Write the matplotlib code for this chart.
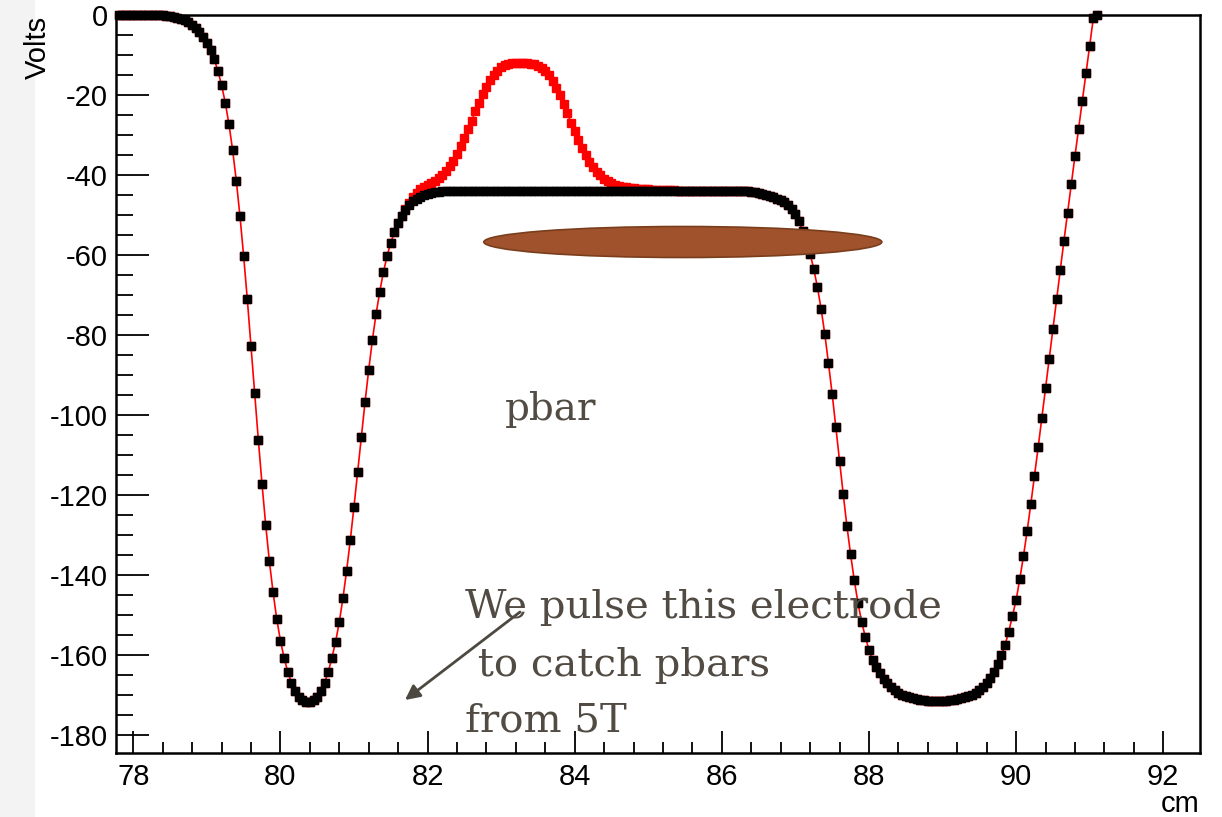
import numpy as np
import matplotlib

matplotlib.use("Agg")
import matplotlib.pyplot as plt  # noqa: E402
from matplotlib.patches import Ellipse, Rectangle  # noqa: E402
from matplotlib.ticker import FixedLocator  # noqa: E402

W_PX, H_PX = 1222, 817

# sampling grid of the simulated potential (cm)
X_START = 77.80
X_STEP = 0.05

# potential on axis, black series (Volts), one value per grid step from 77.80 cm
volts_black = [
    0.0, 0.0, 0.0, 0.0, 0.0, 0.0, 0.0, 0.0, 0.0,
    -0.02, -0.04, -0.07, -0.12, -0.2, -0.3, -0.45, -0.65, -0.9, -1.3,
    -1.8, -2.4, -3.2, -4.2, -5.4, -6.9, -8.75, -11.1, -13.9, -17.5,
    -21.9, -27.25, -33.75, -41.4, -50.25, -60.25, -71.1, -82.75, -94.6, -106.25,
    -117.3, -127.5, -136.6, -144.3, -151.0, -156.4, -160.7, -164.25, -166.9, -169.0,
    -170.4, -171.25, -171.7, -171.7, -171.25, -170.4, -169.0, -166.9, -164.25, -160.7,
    -156.7, -151.8, -145.75, -138.9, -131.25, -122.9, -114.2, -105.4, -96.8, -88.75,
    -81.25, -74.75, -69.2, -64.25, -60.25, -56.9, -54.3, -52.1, -50.3, -48.8,
    -47.6, -46.6, -45.9, -45.4, -45.0, -44.7, -44.5, -44.35, -44.2, -44.1,
    -44.0, -43.95,
    -43.9, -43.9, -43.9, -43.9, -43.9, -43.9, -43.9, -43.9, -43.9, -43.9,
    -43.9, -43.9, -43.9, -43.9, -43.9, -43.9, -43.9, -43.9, -43.9, -43.9,
    -43.9, -43.9, -43.9, -43.9, -43.9, -43.9, -43.9, -43.9, -43.9, -43.9,
    -43.9, -43.9, -43.9, -43.9, -43.9, -43.9, -43.9, -43.9, -43.9, -43.9,
    -43.9, -43.9, -43.9, -43.9, -43.9, -43.9, -43.9, -43.9, -43.9, -43.9,
    -43.9, -43.9, -43.9, -43.9, -43.9, -43.9, -43.9, -43.9, -43.9, -43.9,
    -43.9, -43.9, -43.9, -43.9, -43.9, -43.9, -43.9, -43.9, -43.9, -43.9,
    -43.9, -43.9, -43.9, -43.9, -43.9, -43.9, -43.9, -43.9, -43.9,
    -44.0, -44.1, -44.2, -44.3, -44.5, -44.7, -45.0, -45.3, -45.5, -45.9,
    -46.3, -46.8, -47.4, -48.4, -49.8, -51.6, -54.0, -56.7, -59.7, -63.5,
    -68.1, -73.5, -79.8, -87.1, -94.75, -103.1, -111.5, -119.75, -127.7, -134.8,
    -141.25, -146.9, -151.7, -155.4, -158.75, -161.25, -163.0, -164.5, -165.9, -167.0,
    -168.0, -168.8, -169.4, -169.9, -170.3, -170.6, -170.85, -171.05, -171.2, -171.3,
    -171.4, -171.45, -171.5, -171.5, -171.45, -171.4, -171.3, -171.2, -171.05, -170.85,
    -170.6, -170.3, -169.9, -169.4, -168.7, -167.9, -166.9, -165.7, -164.2, -162.3,
    -160.0, -157.5, -154.2, -150.25, -146.3, -141.05, -135.3, -129.05, -122.3, -115.3,
    -108.1, -100.7, -93.25, -85.9, -78.4, -71.0, -63.75, -56.5, -49.4, -42.3,
    -35.3, -28.4, -21.5, -14.4, -7.7, -0.8, 0.0,
]

# red series: differs from the black one only where the electrode is pulsed
RED_START = 81.70
volts_red_bump = [
    -48.5, -47.0, -45.6, -44.5, -43.6, -42.9, -42.4, -41.9, -41.4, -40.8,
    -40.0, -39.0, -37.8, -36.4, -34.7, -32.8, -30.8, -28.6, -26.4, -24.1,
    -21.9, -19.8, -17.9, -16.2, -14.9, -13.9, -13.1, -12.6, -12.3, -12.1,
    -12.0, -11.9, -11.9, -12.0, -12.15, -12.35, -12.7, -13.2, -14.1, -15.1,
    -16.5, -18.2, -20.1, -22.3, -24.6, -26.9, -29.0, -31.2, -33.2, -35.0,
    -36.7, -38.0, -39.2, -40.1, -40.9, -41.5, -42.0, -42.4, -42.7, -42.9,
    -43.1, -43.2, -43.3, -43.4, -43.5, -43.55, -43.6, -43.65, -43.7, -43.75,
    -43.8, -43.8, -43.85, -43.85, -43.9, -43.9, -43.9,
]

x_major = [78, 80, 82, 84, 86, 88, 90, 92]
y_major = [0, -20, -40, -60, -80, -100, -120, -140, -160, -180]

TXT_C = "#514b43"


def fig_xy(px, py):
    return px / W_PX, 1 - py / H_PX


def main():
    x = np.round(X_START + X_STEP * np.arange(len(volts_black)), 2)
    y_black = np.array(volts_black)
    y_red = y_black.copy()
    i0 = int(round((RED_START - X_START) / X_STEP))
    y_red[i0:i0 + len(volts_red_bump)] = volts_red_bump

    fig = plt.figure(figsize=(W_PX / 100, H_PX / 100), dpi=100)
    # light slide texture on the far left
    fig.patches.append(Rectangle((0, 0), 35 / W_PX, 1, transform=fig.transFigure,
                                 facecolor="#f3f3f3", edgecolor="none", zorder=0))

    l, b = fig_xy(116, 753)
    r, t = fig_xy(1200, 15)
    ax = fig.add_axes([l, b, r - l, t - b])
    ax.set_xlim(77.765, 92.50)
    ax.set_ylim(-184.5, 0)

    ax.plot(x, y_red, color="red", lw=1.2, marker="s", ms=5.2, mec="red", mfc="red",
            zorder=2, clip_on=False)
    ax.plot(x, y_black, ls="none", marker="s", ms=5.2, mec="black", mfc="black",
            zorder=3, clip_on=False)

    ax.add_patch(Ellipse((85.47, -56.75), 5.41, 7.75, facecolor="#a0522d",
                         edgecolor="#7a3e1c", lw=1.2, zorder=4))

    for s in ax.spines.values():
        s.set_linewidth(1.8)

    ax.xaxis.set_major_locator(FixedLocator(x_major))
    ax.xaxis.set_minor_locator(FixedLocator(np.arange(78.4, 92, 0.4)))
    ax.yaxis.set_major_locator(FixedLocator(y_major))
    ax.yaxis.set_minor_locator(FixedLocator(np.arange(-180, 1, 5)))
    ax.set_xticklabels([str(v) for v in x_major])
    ax.set_yticklabels([str(v) for v in y_major])
    ax.tick_params(axis="x", which="major", direction="in", length=16, width=1.3,
                   labelsize=21, pad=7, top=False)
    ax.tick_params(axis="x", which="minor", direction="in", length=8, width=1.3, top=False)
    ax.tick_params(axis="y", which="major", direction="in", length=24, width=1.3,
                   labelsize=21, pad=6, right=False)
    ax.tick_params(axis="y", which="minor", direction="in", length=12, width=1.3, right=False)
    for lab in ax.get_xticklabels() + ax.get_yticklabels():
        lab.set_family("Liberation Sans")

    fx, fy = fig_xy(38, 16)
    fig.text(fx, fy, "Volts", rotation=90, ha="center", va="top", fontsize=21,
             family="Liberation Sans")
    fx, fy = fig_xy(1200, 812)
    fig.text(fx, fy, "cm", ha="right", va="baseline", fontsize=21, family="Liberation Sans")

    serif = ["DejaVu Serif"]
    fx, fy = fig_xy(505, 420)
    fig.text(fx, fy, "pbar", ha="left", va="baseline", fontsize=28, color=TXT_C,
             family=serif)
    for line, py in (("We pulse this electrode", 618), (" to catch pbars", 676),
                     ("from 5T", 732)):
        fx, fy = fig_xy(465, py)
        fig.text(fx, fy, line, ha="left", va="baseline", fontsize=29, color=TXT_C,
                 family=serif, zorder=5)

    ax.annotate("", xy=fig_xy(405, 700), xytext=fig_xy(520, 612),
                xycoords="figure fraction", textcoords="figure fraction",
                arrowprops=dict(arrowstyle="-|>", color="#4d4840", lw=2,
                                mutation_scale=22, shrinkA=0, shrinkB=0))

    fig.savefig("out.png", dpi=100)


if __name__ == "__main__":
    main()
